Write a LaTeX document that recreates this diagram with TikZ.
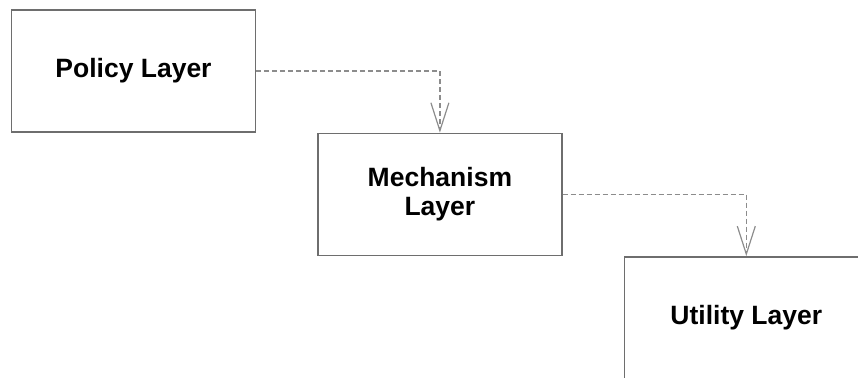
\documentclass[tikz,border=0pt]{standalone}
\usepackage{fontspec}
\setmainfont{Liberation Sans}
\usepackage{tikz}
\usetikzlibrary{arrows.meta,positioning}
\definecolor{boxgray}{HTML}{6E6E6E}
\definecolor{callgray}{HTML}{8C8C8C}
\tikzstyle{layer} = [draw=boxgray, line width=1.4pt, minimum width=244pt, minimum height=122pt,
  align=center, font=\fontsize{26.5}{29}\selectfont\bfseries]
\tikzstyle{uses} = [draw=callgray, line width=1.2pt, dash pattern=on 5pt off 3pt,
  -{Straight Barb[length=28pt,width=18pt,line width=1.2pt]}]

\begin{document}
\begin{tikzpicture}[ node distance=0pt and 61pt ]

\useasboundingbox (0pt,0pt) rectangle (858pt,-377pt);
\clip (0pt,0pt) rectangle (858pt,-377pt);

% layers
\node (policy) [layer] at (133.5pt,-71pt) {Policy Layer};
\node (mechanism) [layer,below right=of policy] {Mechanism\\Layer};
\node (utility) [layer,below right=of mechanism] {Utility Layer};

% calls
\draw[uses] (policy.east) -| (mechanism.north);
\draw[uses] (mechanism.east) -| (utility.north);

\end{tikzpicture}
\end{document}
